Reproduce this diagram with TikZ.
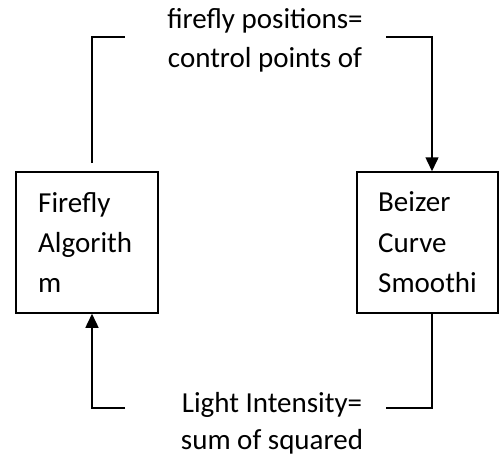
\documentclass[tikz,border=0pt]{standalone}
\usepackage{fontspec}
\setmainfont{Carlito}
\usetikzlibrary{arrows.meta}
\tikzset{
  box/.style={draw, line width=1.5pt, rectangle, inner sep=0pt, minimum width=142pt, minimum height=141pt},
  txt/.style={inner sep=0pt, font=\fontsize{29}{38}\selectfont},
  conn/.style={line width=1.5pt},
  arr/.style={conn, -{Triangle[width=13pt,length=14pt]}}
}
\begin{document}
\begin{tikzpicture}[x=1pt,y=-1pt]
\useasboundingbox (0,0) rectangle (500,458);
\node[box] (boxL) at (87,242.5) {};
\node[box, minimum width=141pt] (boxR) at (427.5,242.5) {};
\node[txt, anchor=base west] (l1) at (38,212) {Firefly};
\node[txt, anchor=base west] (l2) at (38,252) {Algorith};
\node[txt, anchor=base west] (l3) at (38,292) {m};
\node[txt, anchor=base west] (r1) at (378,211) {Beizer};
\node[txt, anchor=base west] (r2) at (378,252) {Curve};
\node[txt, anchor=base west] (r3) at (378,292) {Smoothi};
\node[txt, anchor=base] (t1) at (265,28) {firefly positions=};
\node[txt, anchor=base] (t2) at (265,67) {control points of};
\node[txt, anchor=base] (b1) at (272,412) {Light Intensity=};
\node[txt, anchor=base] (b2) at (272,449) {sum of squared};
\coordinate (tl) at (92,163);
\coordinate (tle) at (125,37);
\coordinate (tre) at (386,37);
\coordinate (ble) at (125,408);
\coordinate (bre) at (386,408);
\draw[conn] (tl) |- (tle);
\draw[arr] (tre) -| ([xshift=4.5pt]boxR.north);
\draw[conn] ([xshift=4.5pt]boxR.south) |- (bre);
\draw[arr] (ble) -| ([xshift=5pt]boxL.south);
\end{tikzpicture}
\end{document}
